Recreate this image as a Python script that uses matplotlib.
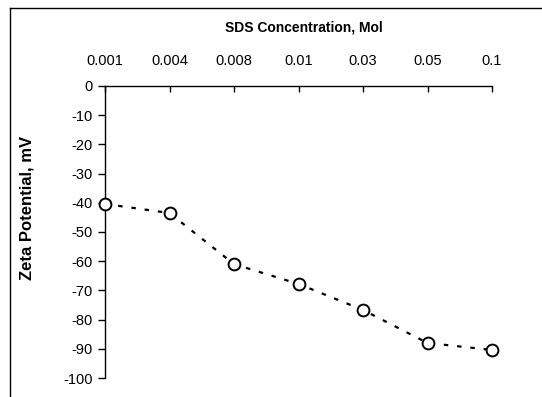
import numpy as np
import matplotlib
matplotlib.use('Agg')
import matplotlib.pyplot as plt
from matplotlib.lines import Line2D

plt.rcParams['font.family'] = ['Liberation Sans', 'DejaVu Sans']

# data
concentrations = ['0.001', '0.004', '0.008', '0.01', '0.03', '0.05', '0.1']
zeta = [-40.4, -43.5, -61.0, -67.8, -76.7, -88.0, -90.4]
yticks = np.arange(0, -101, -10)

fig = plt.figure(figsize=(5.42, 3.97), dpi=100)
ax = fig.add_axes([105/542, 19/397, 387/542, 292/397])

x = np.arange(len(concentrations))
ax.plot(x, zeta, color='black', linestyle=(0, (2, 4)), linewidth=1.6,
        marker='o', markersize=8.5, markerfacecolor='white',
        markeredgecolor='black', markeredgewidth=1.4, clip_on=False, zorder=3)

ax.set_xlim(0, len(concentrations) - 1)
ax.set_ylim(-100, 0)
ax.set_yticks(yticks)
ax.set_yticklabels([str(v) for v in yticks], fontsize=10.5)
ax.set_xticks(x)
ax.set_xticklabels(concentrations, fontsize=10.5)

ax.xaxis.tick_top()
ax.xaxis.set_label_position('top')
ax.tick_params(axis='x', direction='in', length=4, width=1, pad=13)
ax.tick_params(axis='y', direction='out', length=5, width=1, pad=4)

ax.spines['right'].set_visible(False)
ax.spines['bottom'].set_visible(False)
for s in ['top', 'left']:
    ax.spines[s].set_linewidth(1)

fig.text(304/542, 1 - 27/397, 'SDS Concentration, Mol', ha='center', va='center',
         fontsize=10, fontweight='bold')
fig.text(27/542, 1 - 208/397, 'Zeta Potential, mV', ha='center', va='center',
         rotation=90, fontsize=12, fontweight='bold')

# outer chart frame (only top and left edges show in the picture)
fig.add_artist(Line2D([10/542, 1], [1 - 8/397, 1 - 8/397], color='black', linewidth=1,
                      transform=fig.transFigure))
fig.add_artist(Line2D([10/542, 10/542], [0, 1 - 8/397], color='black', linewidth=1,
                      transform=fig.transFigure))

plt.savefig('out.png', dpi=100)
